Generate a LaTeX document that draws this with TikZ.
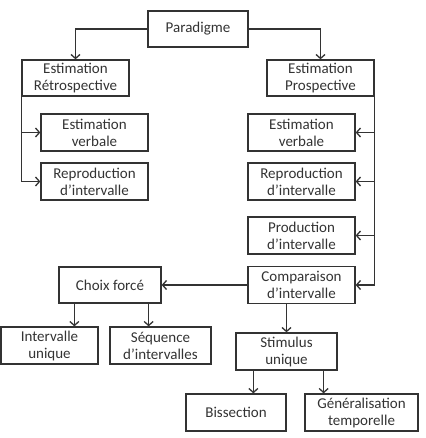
\documentclass[tikz,border=0pt]{standalone}
\usepackage{fontspec}
\setmainfont{Carlito}
\usetikzlibrary{arrows.meta}
\begin{document}
\begin{tikzpicture}[x=1pt,y=-1pt,
  box/.style={draw=black!80,line width=1.3pt,rectangle,inner sep=0pt,minimum height=37pt,
    align=center,text=black!80,font=\fontsize{15}{17}\selectfont},
  arr/.style={draw=black!80,line width=1.3pt,-{Straight Barb[length=4pt,width=9pt,line width=1.3pt]}}]
\useasboundingbox (0,0) rectangle (425,438);
\node[box,minimum width=100pt,minimum height=36pt] (par) at (198,29) {Paradigme};
\node[box,minimum width=107pt,minimum height=36pt] (retro) at (75.5,78) {Estimation\\Rétrospective};
\node[box,minimum width=107pt,minimum height=36pt] (pros) at (320.5,78) {Estimation\\Prospective};
\node[box,minimum width=107pt] (evL) at (94.5,132.5) {Estimation\\verbale};
\node[box,minimum width=107pt] (rpL) at (94.5,181.5) {Reproduction\\d’intervalle};
\node[box,minimum width=107pt] (evR) at (301.5,132.5) {Estimation\\verbale};
\node[box,minimum width=107pt] (rpR) at (301.5,181.5) {Reproduction\\d’intervalle};
\node[box,minimum width=107pt] (prod) at (301.5,235.5) {Production\\d’intervalle};
\node[box,minimum width=107pt] (comp) at (301.5,285) {Comparaison\\d’intervalle};
\node[box,minimum width=102pt,minimum height=36pt] (choix) at (110,285) {Choix forcé};
\node[box,minimum width=97pt] (iu) at (49.5,345.5) {Intervalle\\unique};
\node[box,minimum width=101pt] (seq) at (160.5,345.5) {Séquence\\d’intervalles};
\node[box,minimum width=101pt] (stim) at (286.5,351.5) {Stimulus\\unique};
\node[box,minimum width=100pt] (bis) at (236,412.5) {Bissection};
\node[box,minimum width=113pt] (gen) at (361.5,412.5) {Généralisation\\temporelle};
\draw[arr] (par.west) -| (retro.north);
\draw[arr] (par.east) -| (pros.north);
\draw[arr] (retro.south west) |- (rpL.west);
\draw[arr] (retro.south west |- evL.west) -- (evL.west);
\draw[arr] (pros.south east) |- (comp.east);
\draw[arr] (pros.south east |- evR.east) -- (evR.east);
\draw[arr] (pros.south east |- rpR.east) -- (rpR.east);
\draw[arr] (pros.south east |- prod.east) -- (prod.east);
\draw[arr] (comp.west) -- (choix.east);
\coordinate (c1) at ([xshift=16pt]choix.south west);
\coordinate (c2) at ([xshift=-13pt]choix.south east);
\draw[arr] (c1) -- (c1 |- iu.north);
\draw[arr] (c2) -- (c2 |- seq.north);
\draw[arr] (stim.north |- comp.south) -- (stim.north);
\coordinate (s1) at ([xshift=18pt]stim.south west);
\coordinate (s2) at ([xshift=-14pt]stim.south east);
\draw[arr] (s1) -- (s1 |- bis.north);
\draw[arr] (s2) -- (s2 |- gen.north);
\end{tikzpicture}
\end{document}
